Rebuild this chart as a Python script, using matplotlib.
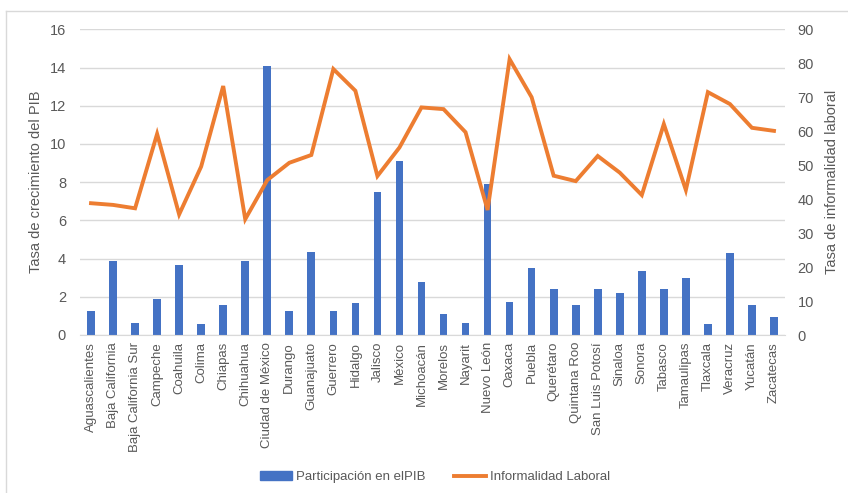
import numpy as np
import matplotlib.pyplot as plt
from matplotlib.lines import Line2D
from matplotlib.patches import Patch

plt.rcParams['font.family'] = ['Liberation Sans', 'DejaVu Sans']

estados = ["Aguascalientes", "Baja California", "Baja California Sur", "Campeche",
           "Coahuila", "Colima", "Chiapas", "Chihuahua", "Ciudad de México", "Durango",
           "Guanajuato", "Guerrero", "Hidalgo", "Jalisco", "México", "Michoacán",
           "Morelos", "Nayarit", "Nuevo León", "Oaxaca", "Puebla", "Querétaro",
           "Quintana Roo", "San Luis Potosí", "Sinaloa", "Sonora", "Tabasco",
           "Tamaulipas", "Tlaxcala", "Veracruz", "Yucatán", "Zacatecas"]

# participacion en el PIB (eje izquierdo)
pib = [1.25, 3.85, 0.65, 1.87, 3.65, 0.58, 1.58, 3.85, 14.07, 1.25,
       4.36, 1.25, 1.67, 7.5, 9.1, 2.76, 1.08, 0.65, 7.88, 1.75,
       3.5, 2.4, 1.58, 2.4, 2.18, 3.35, 2.4, 2.97, 0.58, 4.28,
       1.58, 0.96]

# tasa de informalidad laboral (eje derecho)
informalidad = [38.8, 38.3, 37.3, 59.2, 35.5, 49.6, 73.3, 34.1, 45.6, 50.7,
                53.0, 78.3, 71.9, 46.8, 55.2, 67.0, 66.5, 59.7, 36.8, 81.2,
                70.0, 46.9, 45.3, 52.7, 47.8, 41.2, 62.1, 42.7, 71.5, 68.0,
                61.0, 60.1]

azul = '#4472C4'
naranja = '#ED7D31'
gris = '#595959'
rejilla = '#D9D9D9'

fig = plt.figure(figsize=(8.48, 4.93), dpi=100)
ax = fig.add_axes([80/848, 1-335/493, 705/848, (335-29.3)/493])
ax2 = ax.twinx()

x = np.arange(len(estados))
ax.bar(x, pib, width=0.35, color=azul, zorder=2)
ax2.plot(x, informalidad, color=naranja, lw=2.8, solid_joinstyle='miter', zorder=3)

ax.set_xlim(-0.5, len(estados) - 0.5)
ax.set_ylim(0, 16)
ax.set_yticks(range(0, 17, 2))
ax2.set_ylim(0, 90)
ax2.set_yticks(range(0, 91, 10))

ax.grid(axis='y', color=rejilla, lw=1, zorder=0)
ax.set_axisbelow(True)
for a in (ax, ax2):
    for s in a.spines.values():
        s.set_visible(False)
    a.tick_params(length=0, colors=gris, labelsize=10.5)
ax.spines['bottom'].set_visible(True)
ax.spines['bottom'].set_color(rejilla)

ax.set_xticks(x)
ax.set_xticklabels(estados, rotation=90, fontsize=9.5, color=gris)
ax.tick_params(axis='x', pad=5)
ax.tick_params(axis='y', pad=10)
ax2.tick_params(axis='y', pad=9)

ax.set_ylabel("Tasa de crecimiento del PIB", fontsize=10.5, color=gris, labelpad=5)
ax2.set_ylabel("Tasa de informalidad laboral", fontsize=10.5, color=gris, labelpad=8)

# ax2 on top so the line is drawn over the bars
ax2.set_zorder(ax.get_zorder() + 1)
ax2.patch.set_visible(False)

handles = [Patch(color=azul), Line2D([0], [0], color=naranja, lw=2.8)]
fig.legend(handles, ["Participación en elPIB", "Informalidad Laboral"],
           loc='center', bbox_to_anchor=(435/848, 1 - 477/493), ncol=2, frameon=False,
           fontsize=9.5, labelcolor=gris, handlelength=2.4, handleheight=0.6,
           columnspacing=2.2, handletextpad=0.3)

# chart frame
fig.add_artist(Line2D([6/848, 1], [1 - 11/493] * 2, color=rejilla, lw=1))
fig.add_artist(Line2D([6/848] * 2, [0, 1 - 11/493], color=rejilla, lw=1))

fig.savefig("out.png", dpi=100)
